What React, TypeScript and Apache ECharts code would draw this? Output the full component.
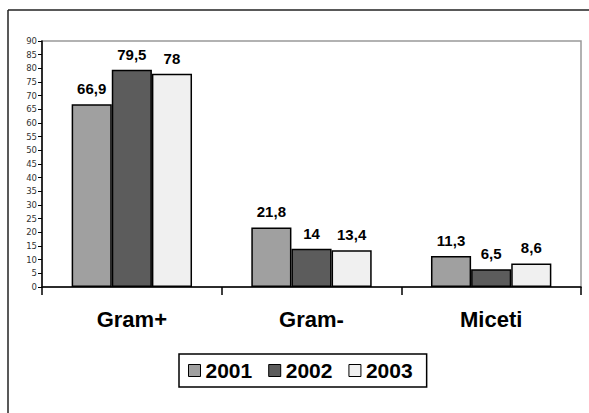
import React, { useEffect, useRef } from "react";
import * as echarts from "echarts";

const categories = ["Gram+", "Gram-", "Miceti"];
const seriesNames = ["2001", "2002", "2003"];
const values2001 = [66.9, 21.8, 11.3];
const values2002 = [79.5, 14, 6.5];
const values2003 = [78, 13.4, 8.6];
const colors = ["#a0a0a0", "#5c5c5c", "#f0f0f0"];

export default function App() {
  const ref = useRef<HTMLDivElement>(null);
  useEffect(() => {
    document.body.style.margin = "0";
    const chart = echarts.init(ref.current!, null, { renderer: "svg" });
    const data = [values2001, values2002, values2003];
    chart.setOption({
      animation: false,
      backgroundColor: "#ffffff",
      grid: {
        left: 42,
        top: 41,
        right: 8,
        bottom: 126,
        show: true,
        borderColor: "#999999",
        borderWidth: 1.5,
        backgroundColor: "transparent",
      },
      legend: {
        left: 179,
        top: 354,
        icon: "rect",
        itemWidth: 12,
        itemHeight: 12,
        itemGap: 16,
        padding: [6, 14, 6, 9],
        borderColor: "#000",
        borderWidth: 1.5,
        data: seriesNames,
        itemStyle: { borderWidth: 1, borderColor: "#000" },
        textStyle: {
          fontFamily: "Liberation Sans",
          fontWeight: "bold",
          fontSize: 21,
          color: "#000",
        },
      },
      xAxis: {
        type: "category",
        data: categories,
        axisLine: { lineStyle: { color: "#000", width: 1.5 } },
        axisTick: { show: true, length: 8, alignWithLabel: false, lineStyle: { color: "#000", width: 1.5 } },
        axisLabel: {
          margin: 21,
          fontFamily: "Liberation Sans",
          fontWeight: "bold",
          fontSize: 22,
          color: "#000",
        },
      },
      yAxis: {
        type: "value",
        min: 0,
        max: 90,
        interval: 5,
        splitLine: { show: false },
        axisLine: { show: true, lineStyle: { color: "#000", width: 1.5 } },
        axisTick: { show: true, length: 4, lineStyle: { color: "#000", width: 1 } },
        axisLabel: {
          margin: 5,
          fontFamily: "DejaVu Sans",
          fontSize: 8.5,
          color: "#333",
        },
      },
      series: seriesNames.map((name, i) => ({
        name,
        type: "bar",
        data: data[i],
        barGap: "0%",
        barCategoryGap: "33%",
        itemStyle: { color: colors[i], borderColor: "#000", borderWidth: 1.5 },
        label: {
          show: true,
          position: "top",
          distance: 8,
          fontFamily: "Liberation Sans",
          fontWeight: "bold",
          fontSize: 15,
          color: "#000",
          formatter: (p: any) => String(p.value).replace(".", ","),
        },
      })),
      graphic: [
        { type: "line", shape: { x1: 8, y1: 10, x2: 589, y2: 10 }, style: { stroke: "#222", lineWidth: 1.5 } },
        { type: "line", shape: { x1: 8, y1: 10, x2: 8, y2: 413 }, style: { stroke: "#222", lineWidth: 1.5 } },
      ],
    });
    return () => chart.dispose();
  }, []);
  return <div ref={ref} style={{ width: 589, height: 413 }} />;
}
